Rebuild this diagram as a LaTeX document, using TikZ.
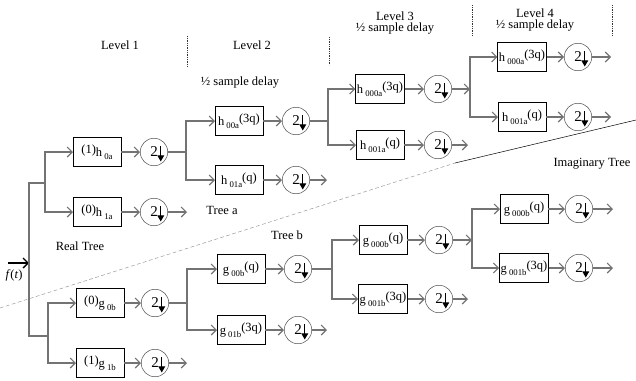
\documentclass[tikz,border=0pt]{standalone}
\usepackage{fontspec}
\setmainfont{Liberation Serif}
\usetikzlibrary{arrows.meta,positioning,calc}

\newcommand{\lo}[1]{\,{\scriptsize\raisebox{-2pt}{#1}}}
\newcommand{\hi}[1]{\raisebox{3pt}{#1}}
\newcommand{\dn}{{\large 2\hspace{3.5pt}}}

\begin{document}
\begin{tikzpicture}[x=0.8pt,y=-0.8pt]
\tikzstyle{filt} = [rectangle, draw=black, minimum width=38pt, minimum height=23pt, inner sep=1pt]
\tikzstyle{down} = [circle, draw=black!70, minimum size=22pt, inner sep=0pt,
  path picture={\draw[black, line width=1pt, -{Triangle[length=5pt,width=5.5pt]}]
    ($(path picture bounding box.center)+(5.4pt,5pt)$) -- ($(path picture bounding box.center)+(5.4pt,-7.6pt)$);}]
\tikzstyle{line} = [black!55, line width=0.9pt]
\tikzstyle{arrow} = [line, -{Straight Barb[length=4pt,width=8pt]}]
\tikzstyle{sep} = [densely dotted, black!80, thin]

\useasboundingbox (0,0) rectangle (636,380);

% headings
\node (lev1) at (120,45) {Level 1};
\node (lev2) at (252,45) {Level 2};
\node (lev3) at (395,16) {Level 3};
\node (del3) at (395,29) {½ sample delay};
\node (lev4) at (535,13) {Level 4};
\node (del4) at (535,26) {½ sample delay};
\node (del2) at (240,83) {½ sample delay};
\draw[sep] (187,36) -- (187,67);
\draw[sep] (329,37) -- (329,65);
\draw[sep] (472,5) -- (472,35);
\draw[sep] (612,5) -- (612,35);

% tree names
\node (real) at (80,246) {Real Tree};
\node (treea) at (222,210) {Tree a};
\node (treeb) at (287,235) {Tree b};
\node (imag) at (592,164) {Imaginary Tree};

% dividing line
\coordinate (cut0) at (0,308);
\coordinate (cut1) at (455,163);
\coordinate (cut2) at (636,120);
\draw[densely dashed, black!40] (cut0) -- (cut1);
\draw[black] (cut1) -- (cut2);

% filters, real tree
\node (r1t) [filt] at (97,152) {\hi{(1)}h\lo{0a}};
\node (r1b) [filt] at (97,212) {\hi{(0)}h\lo{1a}};
\node (r2t) [filt] at (239,121) {h\lo{00a}\hi{(3q)}};
\node (r2b) [filt] at (239,180) {h\lo{01a}\hi{(q)}};
\node (r3t) [filt] at (380,89) {h\lo{000a}\hi{(3q)}};
\node (r3b) [filt] at (380,145) {h\lo{001a}\hi{(q)}};
\node (r4t) [filt] at (522,57) {h\lo{000a}\hi{(3q)}};
\node (r4b) [filt] at (522,117) {h\lo{001a}\hi{(q)}};

% filters, imaginary tree
\node (i1t) [filt] at (100,303) {\hi{(0)}g\lo{0b}};
\node (i1b) [filt] at (100,363) {\hi{(1)}g\lo{1b}};
\node (i2t) [filt] at (241,269) {g\lo{00b}\hi{(q)}};
\node (i2b) [filt] at (241,330) {g\lo{01b}\hi{(3q)}};
\node (i3t) [filt] at (383,240) {g\lo{000b}\hi{(q)}};
\node (i3b) [filt] at (383,299) {g\lo{001b}\hi{(3q)}};
\node (i4t) [filt] at (524,209) {g\lo{000b}\hi{(q)}};
\node (i4b) [filt] at (524,268) {g\lo{001b}\hi{(3q)}};

% downsamplers
\node (dr1t) [down] at (154,152) {\dn};
\node (dr1b) [down] at (154,212) {\dn};
\node (dr2t) [down] at (296,121) {\dn};
\node (dr2b) [down] at (296,180) {\dn};
\node (dr3t) [down] at (438,89) {\dn};
\node (dr3b) [down] at (438,145) {\dn};
\node (dr4t) [down] at (578,57) {\dn};
\node (dr4b) [down] at (578,117) {\dn};
\node (di1t) [down] at (155,303) {\dn};
\node (di1b) [down] at (155,363) {\dn};
\node (di2t) [down] at (298,269) {\dn};
\node (di2b) [down] at (298,330) {\dn};
\node (di3t) [down] at (439,240) {\dn};
\node (di3b) [down] at (439,299) {\dn};
\node (di4t) [down] at (579,209) {\dn};
\node (di4b) [down] at (579,268) {\dn};

% input and trunk
\coordinate (in) at (8,263);
\coordinate (trin) at (29,263);
\coordinate (trtop) at (29,183);
\coordinate (trbot) at (29,336);
\coordinate (br1r) at (45,183);
\coordinate (br1i) at (48,336);
\draw[black, line width=1.1pt, -{Straight Barb[length=4pt,width=8pt]}] (in) -- (trin);
\node (ft) at (14,275) {\textit{f}(\textit{t})};
\draw[line] (br1r) -- (trtop) -- (trbot) -- (br1i);

% branch points
\coordinate (br2r) at (186,152);
\coordinate (br2i) at (187,303);
\coordinate (br3r) at (328,121);
\coordinate (br3i) at (332,269);
\coordinate (br4r) at (470,89);
\coordinate (br4i) at (472,240);

% open outputs
\coordinate (or1) at (187,212);
\coordinate (oi1) at (187,363);
\coordinate (or2) at (327,180);
\coordinate (oi2) at (327,330);
\coordinate (or3) at (468,145);
\coordinate (oi3) at (468,299);
\coordinate (or4t) at (611,57);
\coordinate (or4b) at (611,117);
\coordinate (oi4t) at (613,209);
\coordinate (oi4b) at (613,268);

% level 1
\draw [arrow] (br1r) |- (r1t);
\draw [arrow] (br1r) |- (r1b);
\draw [arrow] (br1i) |- (i1t);
\draw [arrow] (br1i) |- (i1b);
\draw [arrow] (r1t) -- (dr1t);
\draw [arrow] (r1b) -- (dr1b);
\draw [arrow] (i1t) -- (di1t);
\draw [arrow] (i1b) -- (di1b);
\draw [arrow] (dr1b) -- (or1);
\draw [arrow] (di1b) -- (oi1);

% level 2
\draw [line] (dr1t) -- (br2r);
\draw [line] (di1t) -- (br2i);
\draw [arrow] (br2r) |- (r2t);
\draw [arrow] (br2r) |- (r2b);
\draw [arrow] (br2i) |- (i2t);
\draw [arrow] (br2i) |- (i2b);
\draw [arrow] (r2t) -- (dr2t);
\draw [arrow] (r2b) -- (dr2b);
\draw [arrow] (i2t) -- (di2t);
\draw [arrow] (i2b) -- (di2b);
\draw [arrow] (dr2b) -- (or2);
\draw [arrow] (di2b) -- (oi2);

% level 3
\draw [line] (dr2t) -- (br3r);
\draw [line] (di2t) -- (br3i);
\draw [arrow] (br3r) |- (r3t);
\draw [arrow] (br3r) |- (r3b);
\draw [arrow] (br3i) |- (i3t);
\draw [arrow] (br3i) |- (i3b);
\draw [arrow] (r3t) -- (dr3t);
\draw [arrow] (r3b) -- (dr3b);
\draw [arrow] (i3t) -- (di3t);
\draw [arrow] (i3b) -- (di3b);
\draw [arrow] (dr3b) -- (or3);
\draw [arrow] (di3b) -- (oi3);

% level 4
\draw [arrow] (dr3t) -- (br4r);
\draw [arrow] (di3t) -- (br4i);
\draw [line] ($(br4r)+(0,-32)$) -- ($(br4r)+(0,28)$);
\draw [line] ($(br4i)+(0,-31)$) -- ($(br4i)+(0,28)$);
\draw [arrow] (br4r) |- (r4t);
\draw [arrow] (br4r) |- (r4b);
\draw [arrow] (br4i) |- (i4t);
\draw [arrow] (br4i) |- (i4b);
\draw [arrow] (r4t) -- (dr4t);
\draw [arrow] (r4b) -- (dr4b);
\draw [arrow] (i4t) -- (di4t);
\draw [arrow] (i4b) -- (di4b);
\draw [arrow] (dr4t) -- (or4t);
\draw [arrow] (dr4b) -- (or4b);
\draw [arrow] (di4t) -- (oi4t);
\draw [arrow] (di4b) -- (oi4b);

\end{tikzpicture}
\end{document}
